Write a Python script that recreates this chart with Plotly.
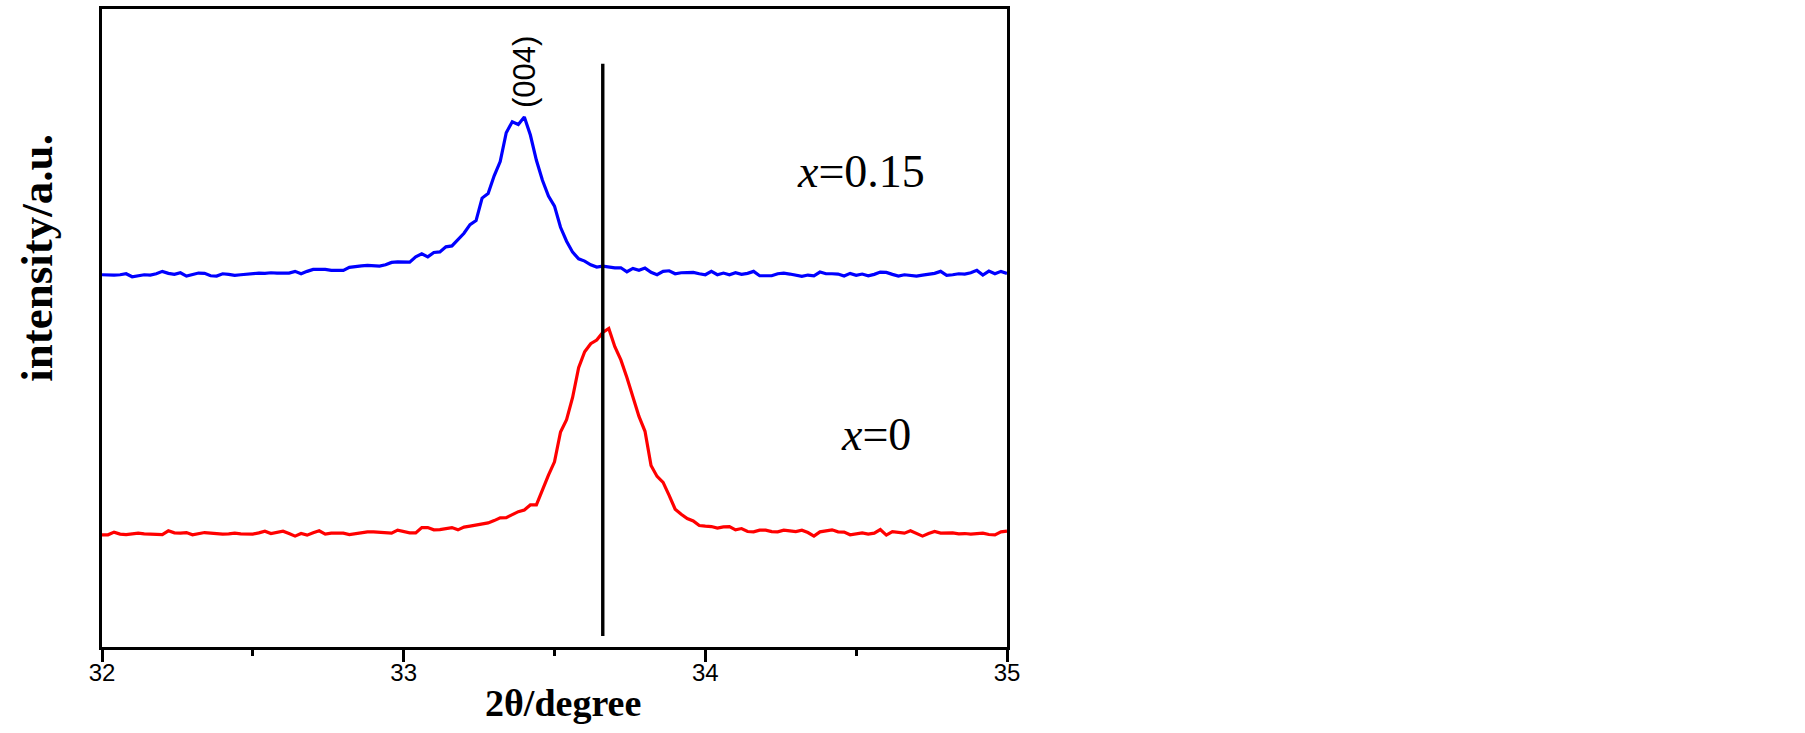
import numpy as np
import plotly.graph_objects as go

# 2-theta grid (0.02 degree step)
two_theta = np.round(np.arange(32.0, 35.0001, 0.02), 2)

# x = 0.15 sample (offset pattern, a.u.)
blue_x015 = [
    374.0, 373.7, 373.7, 374.0, 375.0, 372.0, 373.0, 374.0, 373.7, 375.0,
    377.4, 375.4, 374.4, 376.0, 372.7, 374.4, 375.7, 375.4, 373.0, 372.7,
    375.0, 374.4, 373.4, 374.0, 374.7, 375.7, 375.7, 375.4, 376.0, 375.7,
    376.0, 375.7, 377.4, 375.0, 377.4, 379.4, 379.4, 379.4, 378.4, 378.7,
    378.4, 381.4, 382.4, 383.0, 383.4, 382.7, 382.7, 384.0, 386.4, 387.0,
    387.0, 386.7, 392.0, 395.0, 392.0, 396.4, 397.0, 402.0, 403.0, 409.0,
    415.7, 424.4, 428.4, 451.0, 455.7, 473.4, 487.7, 516.7, 527.7, 525.0,
    532.4, 514.4, 489.0, 469.0, 453.0, 443.0, 421.7, 407.7, 396.7, 390.0,
    387.7, 384.0, 381.7, 382.7, 381.7, 381.0, 381.0, 377.0, 380.4,
    378.4, 380.7, 376.4, 374.0, 377.4, 378.0, 375.0, 376.0, 376.4, 376.4,
    375.0, 374.0, 377.4, 374.0, 375.7, 374.0, 376.0, 374.4, 375.4, 377.4,
    373.0, 372.7, 373.0, 375.0, 375.7, 374.7, 373.4, 372.4, 373.7, 373.0,
    376.7, 375.0, 375.0, 374.7, 372.7, 375.4, 373.4, 374.7, 373.0, 374.4,
    376.7, 376.4, 374.4, 372.7, 374.0, 373.4, 372.7, 373.7, 374.4, 375.4,
    377.4, 373.4, 374.0, 375.0, 374.7, 376.0, 378.4, 373.7, 377.7, 375.0,
    377.4, 375.4,
]

# x = 0 sample (a.u.)
red_x0 = [
    112.7, 112.7, 115.4, 113.4, 113.0, 113.7, 114.4, 113.7, 113.4, 113.0,
    113.0, 116.7, 114.7, 114.4, 115.0, 112.7, 113.7, 115.0, 114.4, 113.7,
    113.4, 113.7, 114.4, 113.7, 113.4, 113.4, 114.7, 116.4, 114.0, 115.0,
    116.4, 114.0, 111.4, 114.0, 112.4, 114.7, 116.7, 113.4, 114.4, 114.4,
    114.4, 113.0, 114.0, 115.0, 115.7, 115.7, 115.4, 114.4, 114.4, 117.4,
    115.7, 114.7, 114.7, 120.0, 120.0, 117.7, 118.0, 119.0, 120.0, 117.7,
    120.4, 121.4, 122.7, 123.7, 124.7, 127.0, 129.7, 130.0, 133.4, 136.0,
    137.7, 142.7, 142.7, 158.0, 172.7, 186.0, 216.0, 228.4, 250.7, 280.7,
    296.7, 304.7, 308.4, 316.0, 320.0, 301.7, 288.4, 270.7, 251.0, 231.7,
    216.7, 182.4, 171.4, 165.4, 152.4, 138.4, 133.4, 129.0, 126.7, 122.0,
    121.4, 121.0, 119.4,
    120.7, 121.0, 117.7, 119.0, 116.0, 115.7, 117.4, 117.4, 116.0, 115.7,
    117.4, 116.7, 116.0, 117.4, 115.0, 111.4, 115.7, 116.7, 117.7, 115.7,
    115.4, 112.7, 114.0, 114.7, 113.4, 114.4, 118.0, 112.4, 116.0, 115.0,
    114.4, 116.7, 114.0, 111.4, 114.0, 116.0, 114.4, 114.4, 114.7, 113.7,
    114.0, 113.4, 114.0, 114.4, 113.0, 112.7, 115.7, 116.4,
]

# reference line (x = 0 (004) position)
ref_line_x = [33.66, 33.66]
ref_line_y = [11, 586]

x_ticks = [32, 33, 34, 35]
x_tick_labels = ["32", "33", "34", "35"]

assert len(blue_x015) == len(two_theta) == len(red_x0)

SERIF = "Liberation Serif, Times New Roman, serif"
SANS = "Liberation Sans, Arial, sans-serif"

fig = go.Figure()
fig.add_trace(go.Scatter(x=two_theta, y=blue_x015, mode="lines",
                         line=dict(color="#0000FF", width=3.2), showlegend=False))
fig.add_trace(go.Scatter(x=two_theta, y=red_x0, mode="lines",
                         line=dict(color="#FF0000", width=3.2), showlegend=False))
fig.add_trace(go.Scatter(x=ref_line_x, y=ref_line_y, mode="lines",
                         line=dict(color="black", width=3.4), showlegend=False))

fig.add_annotation(x=33.40, y=578, text="(004)", textangle=-90, showarrow=False,
                   xanchor="center", yanchor="middle",
                   font=dict(family=SANS, size=31, color="black"))
fig.add_annotation(x=34.515, y=478, text="<i>x</i>=0.15", showarrow=False,
                   xanchor="center", yanchor="middle",
                   font=dict(family=SERIF, size=46, color="black"))
fig.add_annotation(x=34.566, y=214, text="<i>x</i>=0", showarrow=False,
                   xanchor="center", yanchor="middle",
                   font=dict(family=SERIF, size=46, color="black"))

# axis titles
fig.add_annotation(xref="paper", yref="paper", x=0.509, y=-0.087,
                   xanchor="center", yanchor="middle",
                   text="<b>2θ/degree</b>", showarrow=False,
                   font=dict(family=SERIF, size=38, color="black"))
fig.add_annotation(xref="paper", yref="paper", x=-0.072, y=0.61,
                   xanchor="center", yanchor="middle",
                   text="<b>intensity/a.u.</b>", textangle=-90, showarrow=False,
                   font=dict(family=SERIF, size=45, color="black"))

fig.update_layout(
    width=1805, height=733,
    margin=dict(l=102, r=798, t=6, b=86),
    paper_bgcolor="white", plot_bgcolor="white",
    xaxis=dict(
        range=[32, 35], tickmode="array", tickvals=x_ticks, ticktext=x_tick_labels,
        ticks="outside", ticklen=12, tickwidth=2.6, tickcolor="black",
        ticklabelstandoff=-10,
        minor=dict(dtick=0.5, ticks="outside", ticklen=6, tickwidth=2.6, tickcolor="black"),
        showline=True, linecolor="black", linewidth=2.8, mirror=True,
        showgrid=False, zeroline=False,
        tickfont=dict(family=SANS, size=24, color="black"),
    ),
    yaxis=dict(
        range=[0, 641], showticklabels=False, ticks="",
        showline=True, linecolor="black", linewidth=2.8, mirror=True,
        showgrid=False, zeroline=False,
    ),
)

fig.write_html("out.html", config={"displayModeBar": False},
               post_script="document.body.style.margin='0';")
